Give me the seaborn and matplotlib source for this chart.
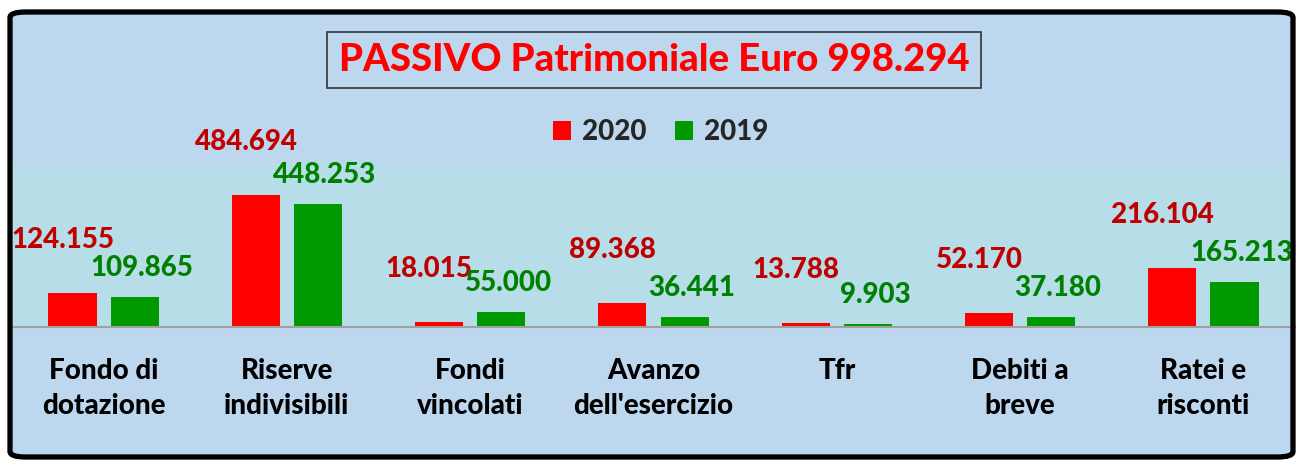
import pandas as pd
import seaborn as sns
import matplotlib.pyplot as plt
from matplotlib.patches import FancyBboxPatch, Patch

# Dati del passivo patrimoniale
categorie = ["Fondo di dotazione", "Riserve indivisibili", "Fondi vincolati",
             "Avanzo dell'esercizio", "Tfr", "Debiti a breve", "Ratei e risconti"]
etichette = ["Fondo di\ndotazione", "Riserve\nindivisibili", "Fondi\nvincolati",
             "Avanzo\ndell'esercizio", "Tfr", "Debiti a\nbreve", "Ratei e\nrisconti"]
valori_2020 = [124155, 484694, 18015, 89368, 13788, 52170, 216104]
valori_2019 = [109865, 448253, 55000, 36441, 9903, 37180, 165213]
anni = ["2020", "2019"]
titolo = "PASSIVO Patrimoniale Euro 998.294"

df = pd.DataFrame({
    "categoria": categorie * 2,
    "anno": ["2020"] * len(categorie) + ["2019"] * len(categorie),
    "valore": valori_2020 + valori_2019,
})

sns.set_theme(style="white")
plt.rcParams["font.family"] = ["Lato", "DejaVu Sans"]
peso = "black"

W, H = 1298, 461
fig = plt.figure(figsize=(W / 100, H / 100), dpi=100, facecolor="white")

# sfondo del grafico con bordo arrotondato
bg = FancyBboxPatch((10 / W, 4 / H), 1283 / W, 445 / H,
                    boxstyle="round,pad=0,rounding_size=0.012",
                    transform=fig.transFigure, facecolor="#BDD7EE",
                    edgecolor="none", zorder=-1)
fig.patches.append(bg)
bordo = FancyBboxPatch((10 / W, 4 / H), 1283 / W, 445 / H,
                       boxstyle="round,pad=0,rounding_size=0.012",
                       transform=fig.transFigure, facecolor="none",
                       edgecolor="black", linewidth=3.8, zorder=10)
fig.patches.append(bordo)

ax = fig.add_axes([12 / W, (H - 327) / H, 1283 / W, 164 / H])
ax.set_facecolor("#B7DEE8")

colori = {"2020": "#FF0000", "2019": "#009900"}
sns.barplot(data=df, x="categoria", y="valore", hue="anno", hue_order=anni,
            palette=colori, width=0.68, gap=0.226, errorbar=None,
            saturation=1, linewidth=0, ax=ax)

ax.set_ylim(0, 600000)
ax.set_xlim(-0.5, 6.5)
for s in ["top", "left", "right"]:
    ax.spines[s].set_visible(False)
ax.spines["bottom"].set_color("#A0A0A0")
ax.spines["bottom"].set_linewidth(1.5)
ax.set_yticks([])
ax.set_xlabel("")
ax.set_ylabel("")
ax.tick_params(axis="x", length=0, pad=22)
ax.set_xticks(range(len(etichette)))
ax.set_xticklabels(etichette, fontsize=20, fontweight=peso, color="black",
                   linespacing=1.45, va="top")
ax.get_legend().remove()

# etichette dei valori
colori_testo = ["#C00000", "#008000"]
spost = [(-7, 38), (5, 21)]
for cont, col, (dx, dy) in zip(ax.containers, colori_testo, spost):
    for barra in cont:
        v = barra.get_height()
        x = barra.get_x() + barra.get_width() / 2
        ax.annotate(f"{int(v):,}".replace(",", "."), (x, v),
                    xytext=(dx, dy), textcoords="offset points",
                    ha="center", va="center", fontsize=20,
                    fontweight=peso, color=col, annotation_clip=False)

# legenda
maniglie = [Patch(facecolor=colori[a], edgecolor="none", label=a) for a in anni]
fig.legend(handles=maniglie, loc="center", bbox_to_anchor=(0.509, 1 - 132 / H),
           ncol=2, frameon=False, handlelength=0.65,
           handleheight=0.65, handletextpad=0.4, columnspacing=1.0,
           prop={"weight": peso, "size": 20, "family": ["Lato", "DejaVu Sans"]})

# titolo nel riquadro
fig.text(0.504, 1 - 60 / H, titolo, ha="center", va="center", fontsize=27.5,
         fontweight=peso, color="#FF0000",
         bbox=dict(boxstyle="square,pad=0.3", facecolor="none",
                   edgecolor="#333333", linewidth=1.2))

fig.savefig("out.png", dpi=100, facecolor="white")
